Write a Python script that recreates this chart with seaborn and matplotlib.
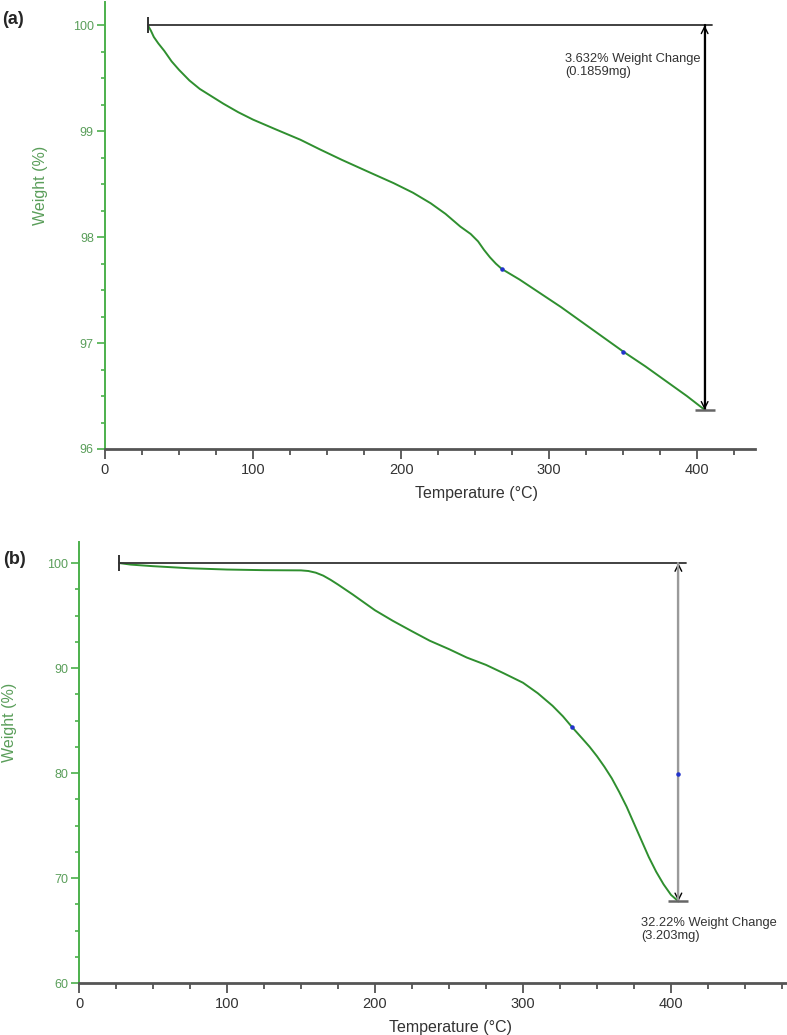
import numpy as np
import pandas as pd
import matplotlib
matplotlib.use("Agg")
import matplotlib.pyplot as plt
import seaborn as sns

# panel (a) TGA curve
temp_a = [29, 31, 33, 36, 40, 45, 50, 57, 64, 72, 80, 90, 100, 115, 132, 145, 160, 179, 195, 208, 220,
          230, 240, 247, 252, 256, 260, 264, 268, 280, 294, 308, 321, 335, 350, 365, 380, 393, 405]
wt_a = [100.0, 99.95, 99.89, 99.83, 99.76, 99.66, 99.58, 99.48, 99.40, 99.33, 99.26, 99.18, 99.11, 99.02, 98.92,
        98.83, 98.73, 98.61, 98.51, 98.42, 98.32, 98.22, 98.10, 98.03, 97.96, 97.88, 97.81, 97.75, 97.70,
        97.60, 97.47, 97.34, 97.21, 97.07, 96.92, 96.78, 96.63, 96.50, 96.37]
dots_a_t = [268, 350]
dots_a_w = [97.70, 96.92]

# panel (b) TGA curve
temp_b = [27, 35, 50, 75, 100, 125, 150, 155, 160, 165, 170, 175, 185, 200, 212, 225, 237, 250, 262, 275,
          287, 300, 310, 320, 327, 333, 340, 345, 350, 355, 360, 365, 370, 375, 380, 385, 390, 395, 400, 405]
wt_b = [100.0, 99.85, 99.7, 99.5, 99.38, 99.32, 99.3, 99.24, 99.08, 98.8, 98.4, 97.95, 97.0, 95.5, 94.5,
        93.5, 92.6, 91.8, 91.0, 90.3, 89.5, 88.6, 87.6, 86.4, 85.4, 84.4, 83.3, 82.5, 81.6, 80.6, 79.5,
        78.2, 76.8, 75.2, 73.6, 72.0, 70.6, 69.4, 68.4, 67.78]
dots_b_t = [333, 405]
dots_b_w = [84.4, 79.9]

notes = ["3.632% Weight Change\n(0.1859mg)", "32.22% Weight Change\n(3.203mg)"]
note_pos = [(311, 99.74), (380, 66.3)]

sns.set_style("white")
plt.rcParams['font.family'] = ['Liberation Sans', 'DejaVu Sans']

GREEN = "#2f8f2f"
SPINE_G = "#4cb04c"
TICK_G = "#5a9e5a"
GREY = "#333333"

fig = plt.figure(figsize=(7.87, 10.35), dpi=100)
ax_a = fig.add_axes([0.1334, 0.5662, 0.8259, 0.4318])
ax_b = fig.add_axes([0.1004, 0.0502, 0.8996, 0.4261])


def style(ax, xlim, ylim, ymaj, ymin, xlab_x):
    ax.set_xlim(*xlim)
    ax.set_ylim(*ylim)
    ax.set_xticks(np.arange(0, xlim[1], 100))
    ax.set_xticks(np.arange(0, xlim[1], 25), minor=True)
    ax.set_yticks(np.arange(ylim[0], ylim[1], ymaj))
    ax.set_yticks(np.arange(ylim[0], ylim[1], ymin), minor=True)
    ax.yaxis.set_major_formatter(matplotlib.ticker.FormatStrFormatter('%d'))
    for s in ['top', 'right']:
        ax.spines[s].set_visible(False)
    ax.spines['left'].set_color(SPINE_G)
    ax.spines['left'].set_linewidth(1.4)
    ax.spines['bottom'].set_color("#555555")
    ax.spines['bottom'].set_linewidth(2)
    ax.tick_params(axis='x', which='major', direction='out', length=7, width=1.2,
                   color="#444444", labelsize=10.5, labelcolor=GREY, pad=3, bottom=True)
    ax.tick_params(axis='x', which='minor', direction='out', length=4, width=1.2,
                   color="#444444", bottom=True)
    ax.tick_params(axis='y', which='major', direction='out', length=6, width=1.2,
                   color=SPINE_G, labelsize=9, labelcolor=TICK_G, pad=2, left=True)
    ax.tick_params(axis='y', which='minor', direction='out', length=3, width=1.2,
                   color=SPINE_G, left=True)
    ax.set_xlabel("Temperature (°C)", fontsize=11.5, color=GREY)
    ax.set_ylabel("Weight (%)", fontsize=11.5, color=TICK_G)
    ax.xaxis.set_label_coords(xlab_x, -0.083)
    ax.yaxis.set_label_coords(-0.087, 0.59)


def panel(ax, t, w, dt, dw, note, npos, vcolor):
    sns.lineplot(x=t, y=w, ax=ax, color=GREEN, lw=1.4, sort=False)
    ax.scatter(dt, dw, s=5, color="#2233cc", zorder=6)
    t0, w0, t1, w1 = t[0], w[0], t[-1], w[-1]
    # horizontal reference line with start bar
    ax.plot([t0, t1 + 5], [w0, w0], color=GREY, lw=1.3)
    ax.plot([t0], [w0], marker='|', ms=12, mew=1.4, color=GREY)
    # vertical double arrow for the weight change
    ax.annotate("", xy=(t1, w1), xytext=(t1, w0),
                arrowprops=dict(arrowstyle='<->', color='black', lw=1.0,
                                shrinkA=0, shrinkB=0, mutation_scale=12), zorder=3)
    ax.plot([t1, t1], [w0, w1], color=vcolor, lw=1.6, zorder=4)
    ax.plot([t1], [w1], marker='_', ms=14, mew=1.8, color="#666666", zorder=4)
    ax.text(npos[0], npos[1], note, fontsize=9.3, color=GREY, va='top',
            ha='left', linespacing=1.15)


panel(ax_a, temp_a, wt_a, dots_a_t, dots_a_w, notes[0], note_pos[0], "black")
style(ax_a, (0, 439), (96, 100.22), 1, 0.25, 0.572)
panel(ax_b, temp_b, wt_b, dots_b_t, dots_b_w, notes[1], note_pos[1], "#9a9a9a")
style(ax_b, (0, 478.4), (60, 102.0), 10, 2.5, 0.525)

fig.text(0.017, 0.981, "(a)", fontsize=13, fontweight='bold', va='center', ha='center')
fig.text(0.018, 0.459, "(b)", fontsize=13, fontweight='bold', va='center', ha='center')

fig.savefig("out.png", dpi=100, facecolor='white')
